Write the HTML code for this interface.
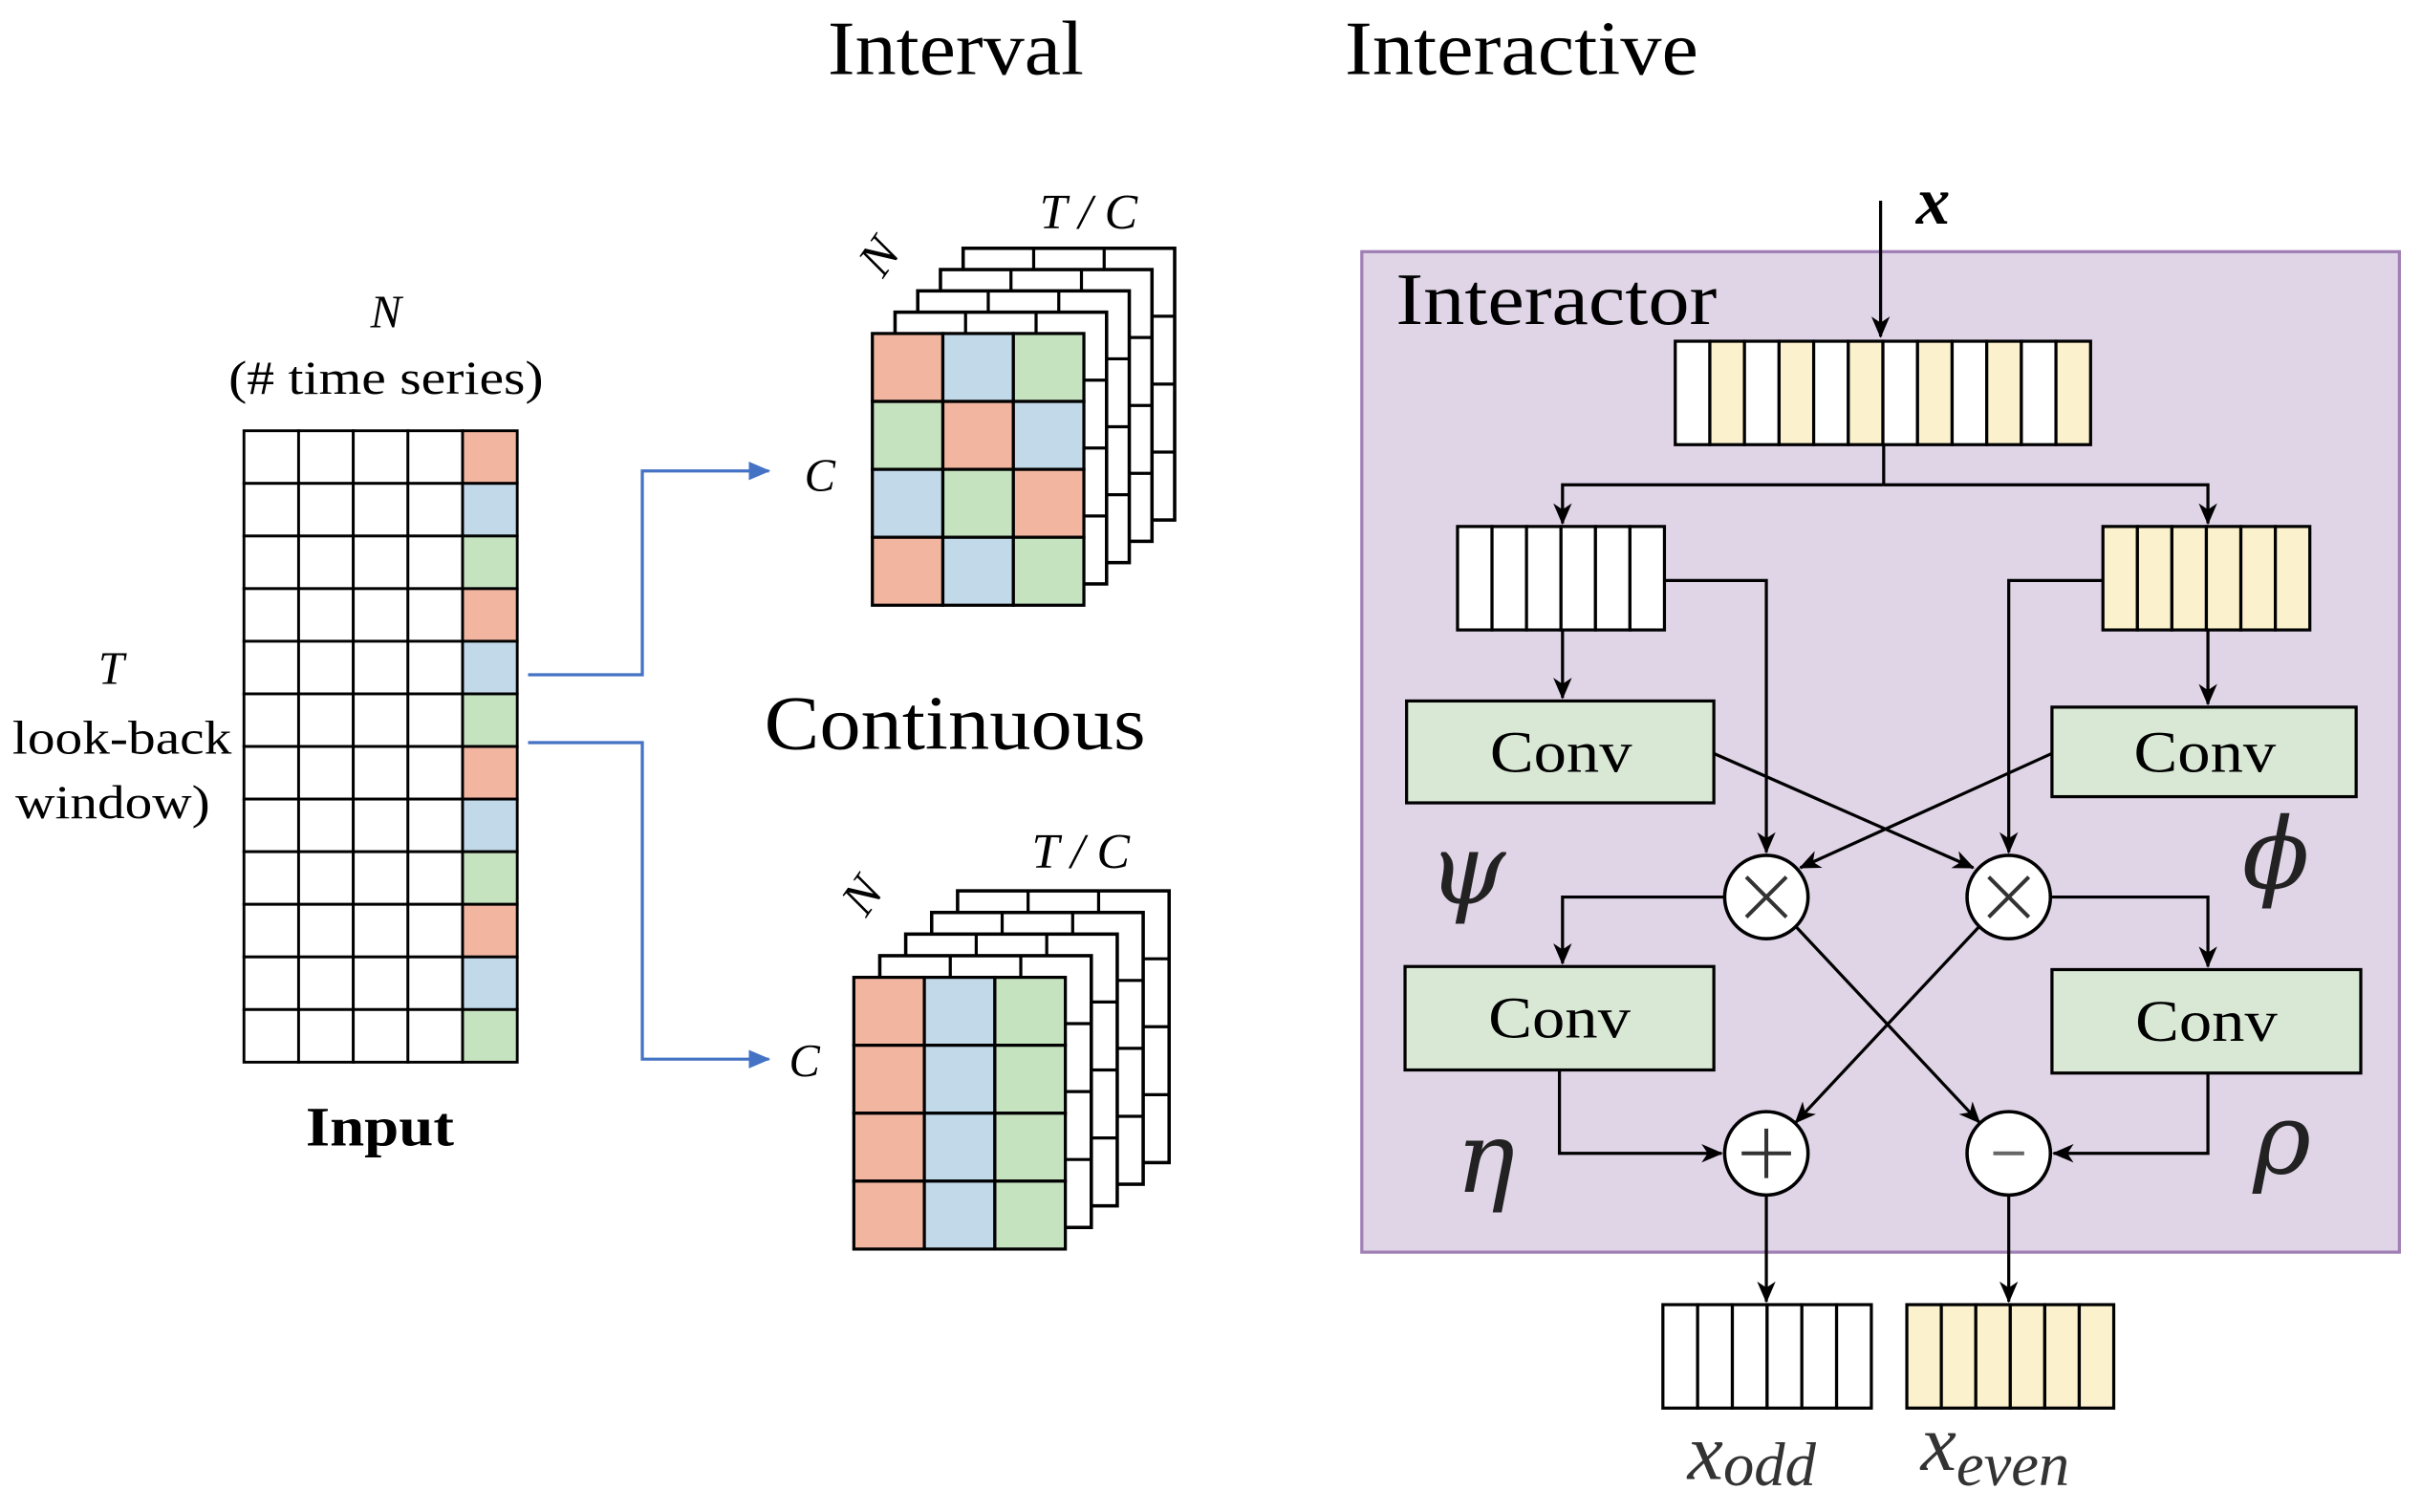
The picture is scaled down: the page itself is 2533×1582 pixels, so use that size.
<!DOCTYPE html>
<html><head><meta charset="utf-8"><style>html,body{margin:0;padding:0;background:#fff}svg{display:block}</style></head>
<body>
<svg id="s" xmlns="http://www.w3.org/2000/svg" width="2533" height="1582" viewBox="0 0 1568 979.3" preserveAspectRatio="none">
<defs>
<marker id="ah" markerWidth="14" markerHeight="12" refX="13" refY="6" orient="auto" markerUnits="userSpaceOnUse"><path d="M0,0 L14,6 L0,12 L4,6 Z" fill="#000"/></marker>
<marker id="bh" markerWidth="14" markerHeight="12" refX="13" refY="6" orient="auto" markerUnits="userSpaceOnUse"><path d="M0,0 L14,6 L0,12 Z" fill="#4472c4"/></marker>
</defs>
<g font-family="Liberation Serif, serif" fill="#000">
<text x="536" y="48" font-size="50" textLength="166" lengthAdjust="spacingAndGlyphs">Interval</text>
<text x="871" y="48" font-size="50" textLength="229" lengthAdjust="spacingAndGlyphs">Interactive</text>
<text x="495" y="485" font-size="50" textLength="247" lengthAdjust="spacingAndGlyphs">Continuous</text>
<text x="250" y="212" font-size="30" font-style="italic" text-anchor="middle">N</text>
<text x="148" y="255" font-size="31" textLength="204" lengthAdjust="spacingAndGlyphs">(# time series)</text>
<text x="72" y="443" font-size="30" font-style="italic" text-anchor="middle">T</text>
<text x="8" y="488" font-size="31" textLength="142" lengthAdjust="spacingAndGlyphs">look-back</text>
<text x="10" y="530" font-size="31" textLength="126" lengthAdjust="spacingAndGlyphs">window)</text>
<text x="198" y="742" font-size="36" font-weight="bold" textLength="96" lengthAdjust="spacingAndGlyphs">Input</text>
<text x="531" y="318" font-size="30" font-style="italic" text-anchor="middle">C</text>
<text x="521" y="697" font-size="30" font-style="italic" text-anchor="middle">C</text>
<text x="705" y="148" font-size="32" font-style="italic" text-anchor="middle">T / C</text>
<text x="700" y="562" font-size="32" font-style="italic" text-anchor="middle">T / C</text>
<text transform="translate(578,172) rotate(-55)" font-size="32" font-style="italic" text-anchor="middle">N</text>
<text transform="translate(567,586) rotate(-55)" font-size="32" font-style="italic" text-anchor="middle">N</text>
</g>
<g id="dyn"></g>
</svg>
<script>
var g=document.getElementById('dyn'),h='';
var S='#f2b5a0',B='#c2d9ea',G='#c6e3c0',Y='#fbf1cd';
function R(x,y,w,hh,f,sw){h+='<rect x="'+x+'" y="'+y+'" width="'+w+'" height="'+hh+'" fill="'+f+'" stroke="#000" stroke-width="'+(sw||2)+'"/>';}
function L(p,m,c,w){h+='<polyline points="'+p+'" fill="none" stroke="'+(c||'#000')+'" stroke-width="'+(w||2)+'"'+(m?' marker-end="url(#'+m+')"':'')+'/>';}
var cw=35.4,rh=34.08,cc=[S,B,G];
for(var r=0;r<12;r++)for(var c=0;c<5;c++)R(158+c*cw,279+r*rh,cw,rh,c==4?cc[r%3]:'#fff',1.8);
L('342,437 416,437 416,305 498,305','bh','#4472c4',2);
L('342,481 416,481 416,686 498,686','bh','#4472c4',2);
function stack(x0,y0,dx,dy,fill){
 var w=137,hh=176;
 for(var k=4;k>=1;k--){var x=x0+k*dx,y=y0+k*dy;R(x,y,w,hh,'#fff',2.2);
  for(var i=1;i<3;i++)L((x+i*w/3)+','+y+' '+(x+i*w/3)+','+(y+hh),null,'#000',2);
  for(var j=1;j<4;j++)L(x+','+(y+j*hh/4)+' '+(x+w)+','+(y+j*hh/4),null,'#000',2);}
 for(var r=0;r<4;r++)for(var c=0;c<3;c++)R(x0+c*w/3,y0+r*hh/4,w/3,hh/4,fill(r,c),2);
}
var pat=[[S,B,G],[G,S,B],[B,G,S],[S,B,G]];
stack(565,216,14.7,-13.8,function(r,c){return pat[r][c]});
stack(553,633,16.8,-14,function(r,c){return cc[c]});
h+='<rect x="882" y="163" width="672" height="648" fill="#e0d4e7" stroke="#a07fb5" stroke-width="2"/>';
h+='<text x="904" y="210" font-family="Liberation Serif, serif" font-size="48" textLength="208" lengthAdjust="spacingAndGlyphs">Interactor</text>';
h+='<text x="1252" y="145" font-family="Liberation Serif, serif" font-size="44" font-style="italic" font-weight="bold" text-anchor="middle">x</text>';
L('1218,130 1218,218','ah');
function arr(x,y,n,w,hh,f){for(var i=0;i<n;i++)R(x+i*w/n,y,w/n,hh,f(i),2);}
arr(1085,221,12,269,67,function(i){return i%2?Y:'#fff'});
L('1220,288 1220,314');L('1220,314 1012,314 1012,339','ah');L('1220,314 1430,314 1430,339','ah');
arr(944,341,6,134,67,function(){return '#fff'});
arr(1362,341,6,134,67,function(){return Y});
L('1012,408 1012,452','ah');L('1430,408 1430,456','ah');
R(911,454,199,66,'#d9e8d5');R(1329,458,197,58,'#d9e8d5');
R(910,626,200,67,'#d9e8d5');R(1329,628,200,67,'#d9e8d5');
function cv(x,y){h+='<text x="'+x+'" y="'+y+'" font-family="Liberation Serif, serif" font-size="38" text-anchor="middle" textLength="92" lengthAdjust="spacingAndGlyphs">Conv</text>';}
cv(1011,500);cv(1428,500);cv(1010,672);cv(1429,674);
L('1078,376 1144,376 1144,552','ah');L('1362,376 1301,376 1301,552','ah');
L('1110,488 1278,562','ah');L('1329,488 1166,562','ah');
L('1117,581 1012,581 1012,624','ah');L('1328,581 1430,581 1430,626','ah');
L('1163,600 1282,727','ah');L('1282,600 1163,727','ah');
L('1010,693 1010,747 1115,747','ah');L('1430,695 1430,747 1330,747','ah');
L('1144,774 1144,843','ah');L('1301,774 1301,843','ah');
function circ(x,y,t){h+='<circle cx="'+x+'" cy="'+y+'" r="27" fill="#fff" stroke="#000" stroke-width="2.2"/>';
 if(t=='x')L((x-13)+','+(y-13)+' '+(x+13)+','+(y+13),null,'#333',2.5),L((x-13)+','+(y+13)+' '+(x+13)+','+(y-13),null,'#333',2.5);
 if(t=='+')L((x-16)+','+y+' '+(x+16)+','+y,null,'#333',2.5),L(x+','+(y-16)+' '+x+','+(y+16),null,'#333',2.5);
 if(t=='-')L((x-10)+','+y+' '+(x+10)+','+y,null,'#666',2.5);}
circ(1144,581,'x');circ(1301,581,'x');circ(1144,747,'+');circ(1301,747,'-');
arr(1077,845,6,135,67,function(){return '#fff'});
arr(1235,845,6,134,67,function(){return Y});
function gt(x,y,t,s){h+='<text x="'+x+'" y="'+y+'" font-family="DejaVu Serif, serif" font-size="'+s+'" font-style="italic" text-anchor="middle" fill="#222">'+t+'</text>';}
gt(950,585,'ψ',64);gt(1474,575,'ϕ',64);gt(962,772,'η',64);gt(1478,760,'ρ',64);
h+='<text x="1093" y="958" font-family="Liberation Serif, serif" font-size="52" font-style="italic" fill="#333">x<tspan font-size="40" dy="4">odd</tspan></text>';
h+='<text x="1244" y="952" font-family="Liberation Serif, serif" font-size="52" font-style="italic" fill="#333">x<tspan font-size="40" dy="10">even</tspan></text>';
g.innerHTML=h;
</script>
</body></html>
